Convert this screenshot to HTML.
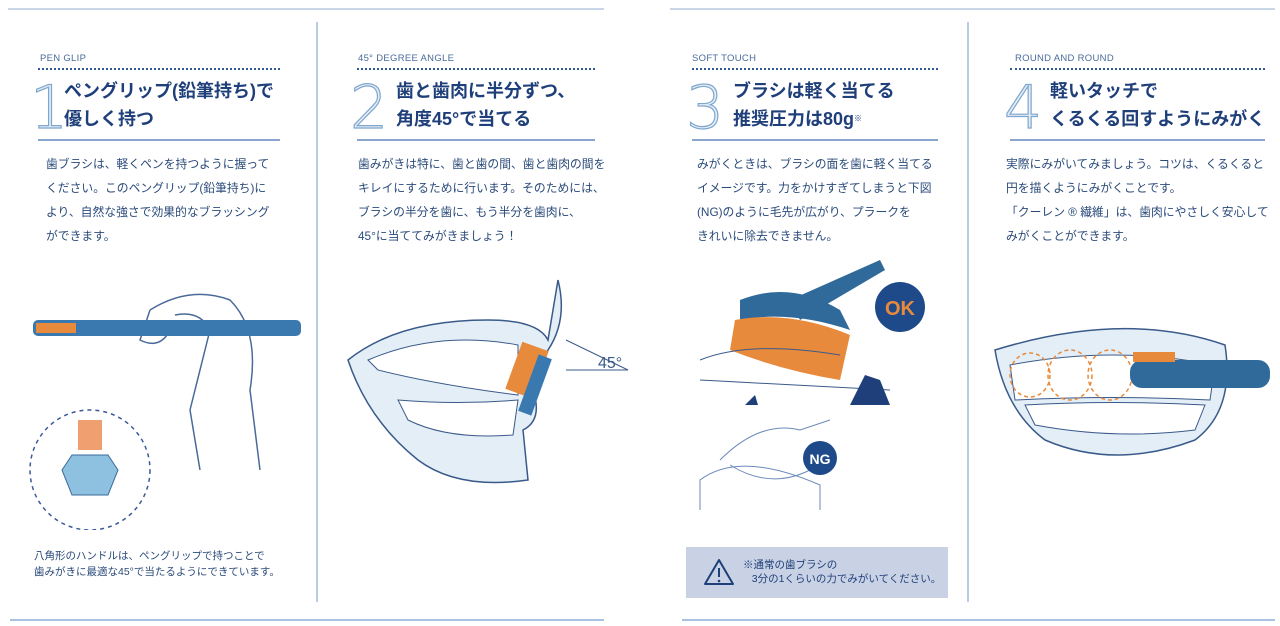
<!DOCTYPE html>
<html><head><meta charset="utf-8"><style>
body{margin:0;width:1280px;height:626px;background:#fff;position:relative;overflow:hidden;font-family:"Liberation Sans","Noto Sans CJK JP",sans-serif;color:#1e3f74}
.a{position:absolute}
.lab{font-size:9.5px;color:#4a6a9a;letter-spacing:.3px}
.dot{border-top:2px dotted #2f5a96;height:0}
.sol{border-top:2px solid #8aa6cf;height:0}
.num{font-size:60px;font-weight:300;color:#e4eef7;-webkit-text-stroke:1.2px #7fa6cc;line-height:1;font-family:"DejaVu Sans",sans-serif}
.tt{font-size:18px;font-weight:bold;color:#1f3f7a;line-height:28px;white-space:nowrap}
.bd{font-size:11.8px;line-height:24px;color:#2a4a7a;white-space:nowrap}
</style></head><body>
<div class="a" style="left:8px;top:8px;width:596px;border-top:2px solid #c8d6e8"></div>
<div class="a" style="left:670px;top:8px;width:605px;border-top:2px solid #c8d6e8"></div>
<div class="a" style="left:10px;top:619px;width:594px;border-top:2px solid #a9c2e2"></div>
<div class="a" style="left:682px;top:619px;width:593px;border-top:2px solid #a9c2e2"></div>
<div class="a" style="left:316px;top:22px;height:580px;border-left:2px solid #b8cce4"></div>
<div class="a" style="left:967px;top:22px;height:580px;border-left:2px solid #b8cce4"></div>

<!-- panel 1 -->
<div class="a lab" style="left:40px;top:53px">PEN GLIP</div>
<div class="a dot" style="left:38px;top:68px;width:242px"></div>
<div class="a num" style="left:30px;top:78px">1</div>
<div class="a tt" style="left:64px;top:77px">ペングリップ(鉛筆持ち)で<br>優しく持つ</div>
<div class="a sol" style="left:38px;top:139px;width:242px"></div>
<div class="a bd" style="left:46px;top:152px">歯ブラシは、軽くペンを持つように握って<br>ください。このペングリップ(鉛筆持ち)に<br>より、自然な強さで効果的なブラッシング<br>ができます。</div>
<div class="a" style="left:34px;top:548px;font-size:10.5px;line-height:16px;color:#2a4a7a;white-space:nowrap">八角形のハンドルは、ペングリップで持つことで<br>歯みがきに最適な45°で当たるようにできています。</div>
<svg class="a" style="left:0;top:270px" width="316" height="260">
<path d="M150 40 Q190 15 230 30 Q260 60 250 120 L260 200 M150 40 L140 70 Q160 80 170 60 M175 45 Q200 40 210 60 L190 140 L200 200" fill="none" stroke="#4a6a9a" stroke-width="1.5"/>
<rect x="33" y="50" width="268" height="16" rx="5" fill="#3a78b0"/>
<rect x="36" y="53" width="40" height="10" fill="#e88a3c"/>
<circle cx="90" cy="200" r="60" fill="none" stroke="#3a5a9a" stroke-width="1.5" stroke-dasharray="4 4"/>
<rect x="78" y="150" width="24" height="30" fill="#f0a070"/>
<path d="M72 185 L108 185 L118 200 L108 225 L72 225 L62 200Z" fill="#8ec0e0" stroke="#3a6a9a"/>
</svg>

<!-- panel 2 -->
<div class="a lab" style="left:358px;top:53px">45° DEGREE ANGLE</div>
<div class="a dot" style="left:357px;top:68px;width:238px"></div>
<div class="a num" style="left:350px;top:78px">2</div>
<div class="a tt" style="left:396px;top:77px">歯と歯肉に半分ずつ、<br>角度45°で当てる</div>
<div class="a sol" style="left:357px;top:139px;width:238px"></div>
<div class="a bd" style="left:358px;top:152px">歯みがきは特に、歯と歯の間、歯と歯肉の間を<br>キレイにするために行います。そのためには、<br>ブラシの半分を歯に、もう半分を歯肉に、<br>45°に当ててみがきましょう！</div>
<svg class="a" style="left:318px;top:260px" width="320" height="250">
<path d="M30 100 Q80 60 170 60 Q220 60 230 80 L240 20 Q250 60 230 90 L215 130 Q225 160 205 170 L210 220 Q140 230 100 200 Q50 160 30 100Z" fill="#e4eef7" stroke="#3a5a8a" stroke-width="1.5"/>
<path d="M50 100 Q120 70 200 85 L200 135 Q120 125 60 110Z" fill="#fff" stroke="#3a5a8a"/>
<path d="M80 140 Q140 145 200 140 L195 175 Q130 180 90 160Z" fill="#fff" stroke="#3a5a8a"/>
<rect x="195" y="85" width="28" height="50" fill="#e88a3c" transform="rotate(20 209 110)"/>
<rect x="210" y="95" width="14" height="60" fill="#3a78b0" transform="rotate(20 217 125)"/>
<path d="M248 80 L310 110 L248 110" fill="none" stroke="#3a5a8a"/>
<text x="280" y="108" font-size="16" fill="#3a5a8a">45°</text>
</svg>

<!-- panel 3 -->
<div class="a lab" style="left:692px;top:53px">SOFT TOUCH</div>
<div class="a dot" style="left:692px;top:68px;width:246px"></div>
<div class="a num" style="left:686px;top:78px">3</div>
<div class="a tt" style="left:733px;top:77px">ブラシは軽く当てる<br>推奨圧力は80g<span style="font-size:8px;vertical-align:top">※</span></div>
<div class="a sol" style="left:692px;top:139px;width:246px"></div>
<div class="a bd" style="left:697px;top:152px">みがくときは、ブラシの面を歯に軽く当てる<br>イメージです。力をかけすぎてしまうと下図<br>(NG)のように毛先が広がり、プラークを<br>きれいに除去できません。</div>
<svg class="a" style="left:690px;top:250px" width="270" height="270">
<path d="M100 50 L190 10 L195 20 L110 70Z" fill="#2f6a9a"/>
<path d="M50 50 Q100 30 150 60 L160 80 Q100 60 50 70Z" fill="#2f6a9a"/>
<path d="M45 70 Q100 60 160 85 L150 130 Q90 120 40 100Z" fill="#e88a3c"/>
<path d="M10 110 Q60 90 150 105 M10 130 L200 140" fill="none" stroke="#3a5a8a"/>
<path d="M55 155 L65 145 L68 155Z M160 155 L175 125 L190 130 L200 155Z" fill="#1f3f7a"/>
<circle cx="210" cy="57" r="25" fill="#1f4a8a"/><text x="210" y="65" font-size="20" font-weight="bold" text-anchor="middle" fill="#e88a3c">OK</text>
<path d="M30 210 Q70 170 110 180 L140 170 M40 215 Q80 240 120 220 M10 260 L10 230 Q50 200 130 235 L130 260" fill="none" stroke="#6a8aba"/>
<circle cx="130" cy="208" r="17" fill="#1f4a8a"/><text x="130" y="214" font-size="14" font-weight="bold" text-anchor="middle" fill="#fff">NG</text>
</svg>
<div class="a" style="left:686px;top:547px;width:262px;height:51px;background:#c8d2e4"></div>
<svg class="a" style="left:703px;top:557px" width="32" height="30"><path d="M16 3 L30 27 L2 27Z" fill="none" stroke="#1f3f7a" stroke-width="2" stroke-linejoin="round"/><path d="M16 11 V20" stroke="#1f3f7a" stroke-width="2"/><circle cx="16" cy="24" r="1.3" fill="#1f3f7a"/></svg>
<div class="a" style="left:743px;top:558px;font-size:10.5px;line-height:14px;color:#1f3f7a;white-space:nowrap">※通常の歯ブラシの<br>&nbsp;&nbsp;&nbsp;3分の1くらいの力でみがいてください。</div>

<!-- panel 4 -->
<div class="a lab" style="left:1015px;top:53px">ROUND AND ROUND</div>
<div class="a dot" style="left:1010px;top:68px;width:255px"></div>
<div class="a num" style="left:1004px;top:78px">4</div>
<div class="a tt" style="left:1050px;top:77px">軽いタッチで<br>くるくる回すようにみがく</div>
<div class="a sol" style="left:1010px;top:139px;width:255px"></div>
<div class="a bd" style="left:1006px;top:152px">実際にみがいてみましょう。コツは、くるくると<br>円を描くようにみがくことです。<br>「クーレン ® 繊維」は、歯肉にやさしく安心して<br>みがくことができます。</div>
<svg class="a" style="left:985px;top:320px" width="295" height="150">
<path d="M10 30 Q140 -10 240 25 Q250 90 210 120 Q130 150 60 120 Q20 90 10 30Z" fill="#e4eef7" stroke="#3a5a8a" stroke-width="1.5"/>
<path d="M25 45 Q130 25 230 45 L225 80 Q130 75 30 80Z" fill="#fff" stroke="#3a5a8a"/>
<path d="M40 85 Q130 80 220 85 L210 110 Q130 120 50 105Z" fill="#fff" stroke="#3a5a8a"/>
<g fill="none" stroke="#e88a3c" stroke-dasharray="4 3" stroke-width="1.5"><ellipse cx="45" cy="55" rx="20" ry="22"/><ellipse cx="85" cy="55" rx="22" ry="25"/><ellipse cx="125" cy="55" rx="22" ry="25"/></g>
<rect x="145" y="40" width="140" height="28" rx="12" fill="#2f6a9a"/>
<rect x="148" y="32" width="42" height="10" fill="#e88a3c"/>
</svg>
</body></html>
